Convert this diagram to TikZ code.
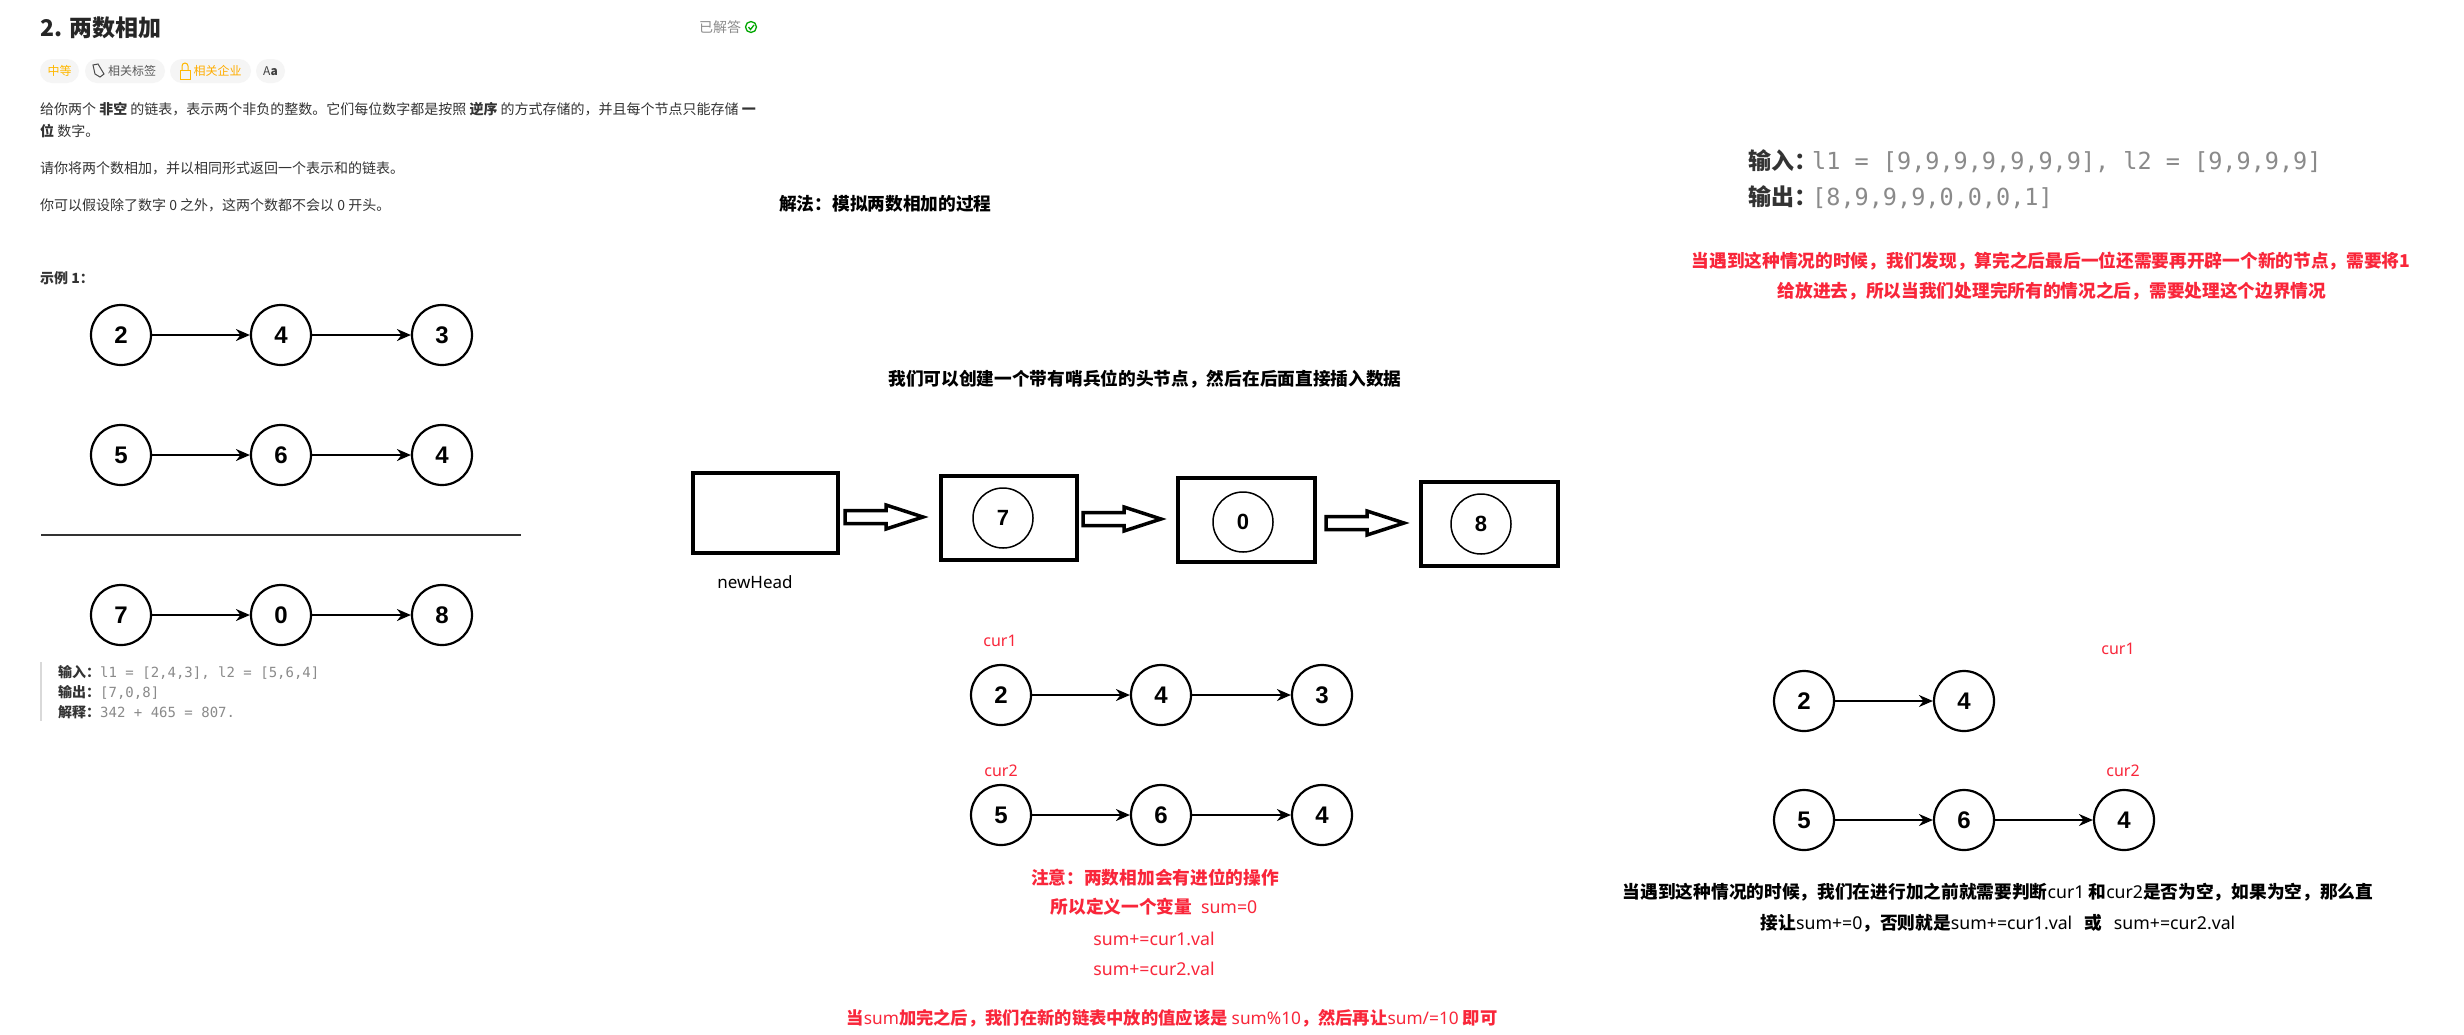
\documentclass[tikz,border=0pt]{standalone}
\usepackage{fontspec}
\setmainfont{Noto Sans CJK SC}
\newfontfamily\latinf{Noto Sans}
\newfontfamily\digitf{Liberation Sans}
\newfontfamily\monof{DejaVu Sans Mono}
\usetikzlibrary{arrows.meta}
\definecolor{redtxt}{HTML}{F9263A}
\definecolor{bodytxt}{HTML}{333333}
\definecolor{monotxt}{HTML}{8A8A8A}
\definecolor{chip}{HTML}{F5F5F5}
\definecolor{gold}{HTML}{FFB800}
\newcommand{\fc}{\char"FF0C\relax}
\newcommand{\fk}{\char"FF1A\relax}
\newcommand{\ltn}[1]{{\latinf\mdseries #1}}
\newcommand{\mon}[1]{{\monof\mdseries\color{monotxt}#1}}
\newcommand{\blockarrow}[2]{\draw[blockar] (#1,#2-6.5) -- (#1+41,#2-6.5) -- (#1+41,#2-12) -- (#1+78,#2) -- (#1+41,#2+12) -- (#1+41,#2+6.5) -- (#1,#2+6.5) -- cycle;}
\tikzset{
  lnode/.style={circle,draw=black,line width=2.2pt,minimum size=60pt,inner sep=0pt,fill=white,
    font=\fontsize{24}{24}\selectfont\digitf\bfseries},
  inode/.style={circle,draw=black,line width=1.5pt,minimum size=60pt,inner sep=0pt,
    font=\fontsize{22}{22}\selectfont\digitf\bfseries},
  lnk/.style={line width=1.8pt,-{Stealth[length=14pt,width=12pt]}},
  boxn/.style={draw=black,line width=4pt,inner sep=0pt},
  blockar/.style={draw=black,line width=3.5pt,fill=white,line join=miter},
  body/.style={anchor=west,inner sep=0pt,text=bodytxt,font=\fontsize{14}{14}\selectfont},
  rbig/.style={inner sep=0pt,text=redtxt,font=\fontsize{17.7}{18}\selectfont\bfseries},
  rcur/.style={inner sep=0pt,text=redtxt,font=\fontsize{16}{16}\selectfont\latinf},
  bbig/.style={inner sep=0pt,text=black,font=\fontsize{17.7}{18}\selectfont\bfseries},
  ex/.style={anchor=west,inner sep=0pt,text=bodytxt,font=\fontsize{14}{14}\selectfont\bfseries},
  exb/.style={anchor=west,inner sep=0pt,text=bodytxt,font=\fontsize{23}{23}\selectfont\bfseries},
  chipn/.style={fill=chip,rounded corners=12pt,inner sep=0pt,minimum height=24pt,
    font=\fontsize{12}{12}\selectfont},
}
\begin{document}
\begin{tikzpicture}[x=1pt,y=-1pt]
\useasboundingbox[fill=white] (0,0) rectangle (2464,1034);
% header
\node[anchor=west,inner sep=0pt,text=black!85,font=\fontsize{23}{23}\selectfont\bfseries] (title) at (40,28) {2. 两数相加};
\node[anchor=west,inner sep=0pt,text=black!45,font=\fontsize{14}{14}\selectfont] (solved) at (699,27) {已解答};
\draw[draw=green!65!black,line width=1.3pt] (751,27) circle (5.5pt);
\draw[draw=green!65!black,line width=1.3pt] (748.5,27) -- (750.5,29.5) -- (754,25);
% chips
\node[chipn,minimum width=39pt,text=gold] (c1) at (59.5,71) {中等};
\node[chipn,minimum width=80pt,text=black!65] (c2) at (125,71) {\hspace{14pt}相关标签};
\node[chipn,minimum width=81pt,text=gold!80!orange] (c3) at (210.5,71) {\hspace{14pt}相关企业};
\node[chipn,minimum width=29pt,text=black!75] (c4) at (270.5,71) {A\textbf{a}};
\draw[black!70,line width=1pt] (93,65) -- (98,64) -- (104,74) -- (100,77) -- (95,74) -- cycle;
\draw[gold,line width=1pt] (180,70) rectangle (190,79);
\draw[gold,line width=1pt] (182,70) -- (182,66) arc[start angle=180,end angle=0,radius=3pt] -- (188,70);
% problem text
\node[body] (p1) at (40,109) {给你两个 \textbf{非空} 的链表\fc 表示两个非负的整数。它们每位数字都是按照 \textbf{逆序} 的方式存储的\fc 并且每个节点只能存储 \textbf{一}};
\node[body] (p2) at (40,131) {\textbf{位} 数字。};
\node[body] (p3) at (40,168) {请你将两个数相加\fc 并以相同形式返回一个表示和的链表。};
\node[body] (p4) at (40,205) {你可以假设除了数字 0 之外\fc 这两个数都不会以 0 开头。};
\node[ex] (p5) at (40,278) {示例 1\fk};
% left lists
\node[lnode] (a1) at (121,335) {2};
\node[lnode] (a2) at (281,335) {4};
\node[lnode] (a3) at (442,335) {3};
\node[lnode] (b1) at (121,455) {5};
\node[lnode] (b2) at (281,455) {6};
\node[lnode] (b3) at (442,455) {4};
\node[lnode] (r1) at (121,615) {7};
\node[lnode] (r2) at (281,615) {0};
\node[lnode] (r3) at (442,615) {8};
\foreach \u/\v in {a1/a2,a2/a3,b1/b2,b2/b3,r1/r2,r2/r3}{\draw[lnk] (\u) -- (\v);}
\coordinate (ruleL) at (41,535);
\coordinate (ruleR) at (521,535);
\draw[black!80,line width=2.5pt] (ruleL) -- (ruleR);
\coordinate (barT) at (41,662);
\coordinate (barB) at (41,721);
\draw[black!15,line width=1.5pt] (barT) -- (barB);
\node[ex] (e1) at (58,672) {输入\fk\mon{l1 = [2,4,3], l2 = [5,6,4]}};
\node[ex] (e2) at (58,692) {输出\fk\mon{[7,0,8]}};
\node[ex] (e3) at (58,712) {解释\fk\mon{342 + 465 = 807.}};
% middle
\node[anchor=west,bbig] (sol) at (779,204) {解法\fk 模拟两数相加的过程};
\node[bbig] (sent) at (1145,379) {我们可以创建一个带有哨兵位的头节点\fc 然后在后面直接插入数据};
\node[boxn,minimum width=145pt,minimum height=80pt] (h0) at (765.5,513) {};
\node[boxn,minimum width=136pt,minimum height=84pt] (h1) at (1009,518) {};
\node[boxn,minimum width=137pt,minimum height=84pt] (h2) at (1246.5,520) {};
\node[boxn,minimum width=137pt,minimum height=84pt] (h3) at (1489.5,524) {};
\node[inode] (i1) at (1003,518) {7};
\node[inode] (i2) at (1243,522) {0};
\node[inode] (i3) at (1481,524) {8};
\blockarrow{845}{517}
\blockarrow{1083}{519}
\blockarrow{1326}{523}
\node[inner sep=0pt,text=black,font=\fontsize{17}{17}\selectfont\latinf] (nh) at (755,582) {newHead};
\node[rcur] (cur1a) at (1000,641) {cur1};
\node[rcur] (cur2a) at (1001,771) {cur2};
\node[lnode] (m1) at (1001,695) {2};
\node[lnode] (m2) at (1161,695) {4};
\node[lnode] (m3) at (1322,695) {3};
\node[lnode] (n1) at (1001,815) {5};
\node[lnode] (n2) at (1161,815) {6};
\node[lnode] (n3) at (1322,815) {4};
\foreach \u/\v in {m1/m2,m2/m3,n1/n2,n2/n3}{\draw[lnk] (\u) -- (\v);}
\node[rbig] (t1) at (1155,878) {注意\fk 两数相加会有进位的操作};
\node[rbig] (t2) at (1154,907) {所以定义一个变量 \ltn{ sum=0}};
\node[rbig] (t3) at (1154,939) {\ltn{sum+=cur1.val}};
\node[rbig] (t4) at (1154,969) {\ltn{sum+=cur2.val}};
\node[rbig,font=\fontsize{17.3}{18}\selectfont\bfseries] (t5) at (1172,1018) {当\ltn{sum}加完之后\fc 我们在新的链表中放的值应该是 \ltn{sum\%10}\fc 然后再让\ltn{sum/=10} 即可};
% right
\node[exb] (x1) at (1748,161) {输入\fk\hspace{-5pt}\mon{\fontsize{23.5}{23.5}\selectfont l1 = [9,9,9,9,9,9,9], l2 = [9,9,9,9]}};
\node[exb] (x2) at (1748,197) {输出\fk\hspace{-5pt}\mon{\fontsize{23.5}{23.5}\selectfont [8,9,9,9,0,0,0,1]}};
\node[rbig] (y1) at (2051,261) {当遇到这种情况的时候\fc 我们发现\fc 算完之后最后一位还需要再开辟一个新的节点\fc 需要将1};
\node[rbig] (y2) at (2052,291) {给放进去\fc 所以当我们处理完所有的情况之后\fc 需要处理这个边界情况};
\node[rcur] (cur1b) at (2118,649) {cur1};
\node[rcur] (cur2b) at (2123,771) {cur2};
\node[lnode] (u1) at (1804,701) {2};
\node[lnode] (u2) at (1964,701) {4};
\node[lnode] (v1) at (1804,820) {5};
\node[lnode] (v2) at (1964,820) {6};
\node[lnode] (v3) at (2124,820) {4};
\foreach \u/\v in {u1/u2,v1/v2,v2/v3}{\draw[lnk] (\u) -- (\v);}
\node[bbig] (z1) at (1998,892) {当遇到这种情况的时候\fc 我们在进行加之前就需要判断\ltn{cur1} 和\ltn{cur2}是否为空\fc 如果为空\fc 那么直};
\node[bbig] (z2) at (1998,923) {接让\ltn{sum+=0}\fc 否则就是\ltn{sum+=cur1.val}\hspace{12pt}或\hspace{12pt}\ltn{sum+=cur2.val}};
\end{tikzpicture}
\end{document}
